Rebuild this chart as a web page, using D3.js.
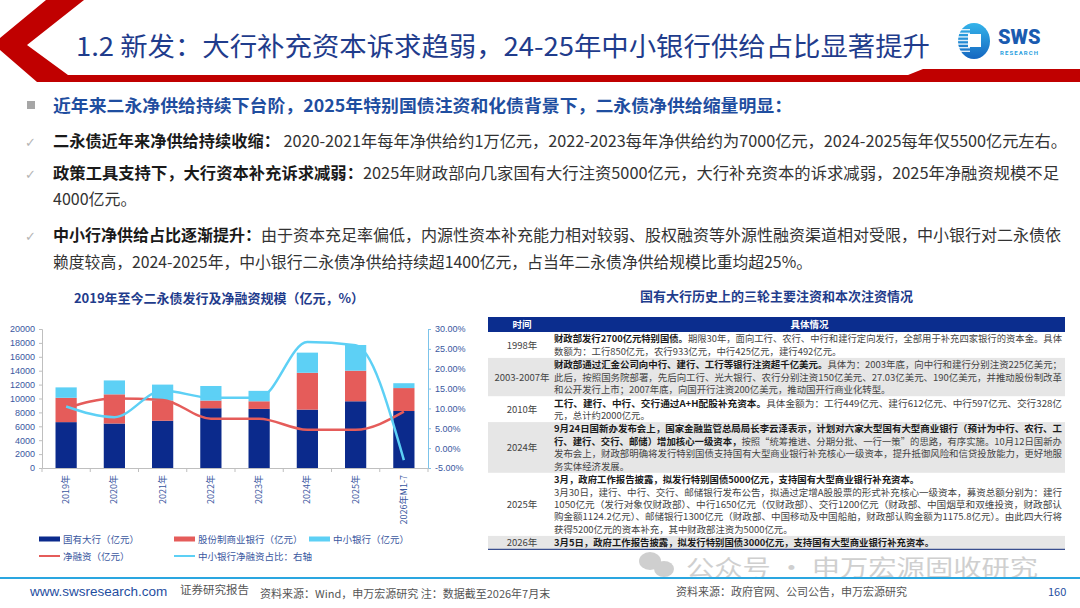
<!DOCTYPE html>
<html><head><meta charset="utf-8">
<script src="https://cdn.jsdelivr.net/npm/d3@7"></script>
<style>
body{margin:0;background:#fff;}
svg{display:block;font-family:"Noto Sans CJK SC","Noto Sans",sans-serif;}
</style>
</head><body>
<svg id="c" width="1080" height="608"></svg>
<script>
// ---------------- DATA ----------------
const pageTitle = "1.2 新发：大行补充资本诉求趋弱，24-25年中小银行供给占比显著提升";
const headline = "近年来二永净供给持续下台阶，2025年特别国债注资和化债背景下，二永债净供给缩量明显：";
const bodyLines = [
  [["b","二永债近年来净供给持续收缩："],["r","  2020-2021年每年净供给约1万亿元，2022-2023每年净供给约为7000亿元，2024-2025每年仅5500亿元左右。"]],
  [["b","政策工具支持下，大行资本补充诉求减弱："],["r","2025年财政部向几家国有大行注资5000亿元，大行补充资本的诉求减弱，2025年净融资规模不足"]],
  [["r","4000亿元。"]],
  [["b","中小行净供给占比逐渐提升："],["r","由于资本充足率偏低，内源性资本补充能力相对较弱、股权融资等外源性融资渠道相对受限，中小银行对二永债依"]],
  [["r","赖度较高，2024-2025年，中小银行二永债净供给持续超1400亿元，占当年二永债净供给规模比重均超25%。"]]
];
const bodyChecks = [true, true, false, true, false];

const chartTitle = "2019年至今二永债发行及净融资规模（亿元，%）";
const categories = ["2019年","2020年","2021年","2022年","2023年","2024年","2025年","2026年M1-7"];
const bigBanks   = [6600, 6400, 6800, 8600, 8500, 8400, 9600, 8200];
const jointStock = [3500, 4200, 2900, 1100, 1100, 5300, 4400, 3300];
const smallBanks = [1500, 2000, 2300, 2100, 1500, 2900, 3700,  700];
const netFinancing = [8600, 10000, 9800, 7100, 7100, 5500, 5500, 8100];
const smallShare = [10.5, 7.8, 14.5, 12.7, 12.7, 26.7, 25.9, -3.0];
const leftTicks = [0,2000,4000,6000,8000,10000,12000,14000,16000,18000,20000];
const rightTicks = [-5,0,5,10,15,20,25,30];
const seriesNames = ["国有大行（亿元）","股份制商业银行（亿元）","中小银行（亿元）","净融资（亿元）","中小银行净融资占比：右轴"];

const tableTitle = "国有大行历史上的三轮主要注资和本次注资情况";
const tableHeaders = ["时间","具体情况"];
const tableYears = ["1998年","2003-2007年","2010年","2024年","2025年","2026年"];
const tableLines = [
  [
    [["b","财政部发行2700亿元特别国债。"],["r","期限30年，面向工行、农行、中行和建行定向发行，全部用于补充四家银行的资本金。具体"]],
    [["r","数额为：工行850亿元，农行933亿元，中行425亿元，建行492亿元。"]]
  ],
  [
    [["b","财政部通过汇金公司向中行、建行、工行等银行注资超千亿美元。"],["r","具体为：2003年底，向中行和建行分别注资225亿美元；"]],
    [["r","此后，按照国务院部署，先后向工行、光大银行、农行分别注资150亿美元、27.03亿美元、190亿美元，并推动股份制改革"]],
    [["r","和公开发行上市；2007年底，向国开行注资200亿美元，推动国开行商业化转型。"]]
  ],
  [
    [["b","工行、建行、中行、交行通过A+H配股补充资本。"],["r","具体金额为：工行449亿元、建行612亿元、中行597亿元、交行328亿"]],
    [["r","元，总计约2000亿元。"]]
  ],
  [
    [["b","9月24日国新办发布会上，国家金融监管总局局长李云泽表示，计划对六家大型国有大型商业银行（预计为中行、农行、工"]],
    [["b","行、建行、交行、邮储）增加核心一级资本，"],["r","按照“统筹推进、分期分批、一行一策”的思路，有序实施。10月12日国新办"]],
    [["r","发布会上，财政部明确将发行特别国债支持国有大型商业银行补充核心一级资本，提升抵御风险和信贷投放能力，更好地服"]],
    [["r","务实体经济发展。"]]
  ],
  [
    [["b","3月，政府工作报告披露，拟发行特别国债5000亿元，支持国有大型商业银行补充资本。"]],
    [["r","3月30日，建行、中行、交行、邮储银行发布公告，拟通过定增A股股票的形式补充核心一级资本，募资总额分别为：建行"]],
    [["r","1050亿元（发行对象仅财政部）、中行1650亿元（仅财政部）、交行1200亿元（财政部、中国烟草和双维投资，财政部认"]],
    [["r","购金额1124.2亿元）、邮储银行1300亿元（财政部、中国移动及中国船舶，财政部认购金额为1175.8亿元）。由此四大行将"]],
    [["r","获得5200亿元的资本补充，其中财政部注资为5000亿元。"]]
  ],
  [
    [["b","3月5日，政府工作报告披露，拟发行特别国债3000亿元，支持国有大型商业银行补充资本。"]]
  ]
];
const footerSite = "www.swsresearch.com";
const footerTag = "证券研究报告";
const footerSourceLeft = "资料来源：Wind，申万宏源研究 注：数据截至2026年7月末";
const footerSourceRight = "资料来源：政府官网、公司公告，申万宏源研究";
const pageNo = "160";
const watermark = "公众号 · 申万宏源固收研究";

// ---------------- DRAW ----------------
const svg = d3.select("#c");
const NAVY = "#0b2a8c", RED = "#e55c5a", LIGHT = "#5dd0f5", AXIS = "#3a57a0";

// header band
svg.append("polygon")
  .attr("points","46,0 84,0 27,45 68,75 908,75 923,69 1080,69 1080,82 37,82 0,50 0,38")
  .attr("fill","#c00000");
svg.append("text").attr("x",76).attr("y",56).attr("font-size",26)
  .attr("fill","#1f3c8c").attr("textLength",854).attr("lengthAdjust","spacingAndGlyphs")
  .text(pageTitle);

// logo
const logo = svg.append("g");
const lg = svg.append("defs").append("linearGradient").attr("id","lgb").attr("x1","0").attr("y1","0").attr("x2","0").attr("y2","1");
lg.append("stop").attr("offset","0").attr("stop-color","#35b4ea");
lg.append("stop").attr("offset","1").attr("stop-color","#1466c0");
logo.append("ellipse").attr("cx",974).attr("cy",41).attr("rx",16).attr("ry",18).attr("fill","url(#lgb)");
d3.range(7).forEach(i=>{
  logo.append("rect").attr("x",958).attr("y",29+i*3.6).attr("width",12).attr("height",1.4).attr("fill","#fff").attr("opacity",0.85);
});
logo.append("rect").attr("x",968).attr("y",34).attr("width",13).attr("height",13).attr("fill","#fff");
logo.append("text").attr("x",998).attr("y",44).attr("font-size",20).attr("font-weight",900)
  .attr("font-family","Roboto, 'DejaVu Sans', sans-serif").attr("fill","#1a5bb0").text("SWS");
logo.append("text").attr("x",1000).attr("y",55).attr("font-size",6).attr("font-weight",700)
  .attr("font-family","Roboto, sans-serif").attr("fill","#2aa0e0").attr("textLength",38).text("RESEARCH");

// body text
svg.append("rect").attr("x",27).attr("y",101).attr("width",8).attr("height",8).attr("fill","#a6a6a6");
svg.append("text").attr("x",53).attr("y",112).attr("font-size",17).attr("font-weight",700)
  .attr("fill","#1f4ea0").attr("textLength",739).attr("lengthAdjust","spacingAndGlyphs").text(headline);

const bodyY = [147, 179, 205, 241, 268];
const bodyW = [1014, 1006, null, 1008, 759];
bodyLines.forEach((segs,i)=>{
  if (bodyChecks[i]) svg.append("text").attr("x",25).attr("y",bodyY[i]).attr("font-size",13)
      .attr("fill","#b5b5b5").attr("font-family","'DejaVu Sans',sans-serif").text("✓");
  const t = svg.append("text").attr("x",53).attr("y",bodyY[i]).attr("font-size",16);
  segs.forEach(s=>{
    t.append("tspan").attr("font-weight", s[0]==="b"?700:400)
     .attr("fill", s[0]==="b"?"#1a1a1a":"#333").text(s[1]);
  });
  if (bodyW[i]) t.attr("textLength",bodyW[i]).attr("lengthAdjust","spacingAndGlyphs");
});

// ---------------- CHART ----------------
svg.append("text").attr("x",219).attr("y",303).attr("text-anchor","middle").attr("font-size",13)
  .attr("font-weight",700).attr("fill","#1f3c8c").text(chartTitle);

const plotL = 42, plotR = 428, plotT = 329, plotB = 468;
const x = d3.scaleBand().domain(categories).range([plotL, plotR]).paddingInner(0.56).paddingOuter(0.28);
const yL = d3.scaleLinear().domain([0,20000]).range([plotB, plotT]);
const yR = d3.scaleLinear().domain([-5,30]).range([plotB, plotT]);

const stackData = categories.map((c,i)=>({cat:c, big:bigBanks[i], joint:jointStock[i], small:smallBanks[i]}));
const stack = d3.stack().keys(["big","joint","small"])(stackData);
const colors = {big:NAVY, joint:RED, small:LIGHT};
const bars = svg.append("g");
stack.forEach(layer=>{
  bars.selectAll(null).data(layer).join("rect")
    .attr("x",d=>x(d.data.cat)).attr("width",x.bandwidth())
    .attr("y",d=>yL(d[1])).attr("height",d=>yL(d[0])-yL(d[1]))
    .attr("fill",colors[layer.key]);
});

// axes
const axL = svg.append("g").attr("transform",`translate(${plotL},0)`)
  .call(d3.axisLeft(yL).tickValues(leftTicks).tickSize(3).tickPadding(4).tickFormat(d3.format("d")));
axL.select(".domain").attr("stroke","#bfbfbf");
axL.selectAll(".tick line").attr("stroke","#bfbfbf");
axL.selectAll("text").attr("font-size",9).attr("fill",AXIS).attr("font-family","'Liberation Sans',Arial,sans-serif");

const axR = svg.append("g").attr("transform",`translate(${plotR},0)`)
  .call(d3.axisRight(yR).tickValues(rightTicks).tickSize(3).tickPadding(4).tickFormat(d=>d.toFixed(2)+"%"));
axR.select(".domain").attr("stroke","#7cc3ea");
axR.selectAll(".tick line").attr("stroke","#7cc3ea");
axR.selectAll("text").attr("font-size",9).attr("fill",AXIS).attr("font-family","'Liberation Sans',Arial,sans-serif");

const axB = svg.append("g").attr("transform",`translate(0,${plotB})`)
  .call(d3.axisBottom(x).tickSize(0).tickFormat(""));
axB.select(".domain").attr("stroke","#bfbfbf");
const step = x.step();
categories.forEach((c,i)=>{
  const xb = x(c) - step*x.paddingInner()/2;
  svg.append("line").attr("x1",xb).attr("x2",xb).attr("y1",plotB).attr("y2",plotB+4).attr("stroke","#bfbfbf");
});
svg.append("line").attr("x1",plotR).attr("x2",plotR).attr("y1",plotB).attr("y2",plotB+4).attr("stroke","#bfbfbf");
svg.append("g").selectAll("text").data(categories).join("text")
  .attr("transform",d=>`translate(${x(d)+x.bandwidth()/2+3},475) rotate(-90)`)
  .attr("text-anchor","end").attr("font-size",9).attr("fill",AXIS).text(d=>d);

// lines
const cx = d=>x(d)+x.bandwidth()/2;
svg.append("path").datum(netFinancing)
  .attr("d",d3.line().x((d,i)=>cx(categories[i])).y(d=>yL(d)).curve(d3.curveMonotoneX))
  .attr("fill","none").attr("stroke",RED).attr("stroke-width",2.5);
svg.append("path").datum(smallShare)
  .attr("d",d3.line().x((d,i)=>cx(categories[i])).y(d=>yR(d)).curve(d3.curveMonotoneX))
  .attr("fill","none").attr("stroke",LIGHT).attr("stroke-width",2.5);

// legend
const leg = [
  {x:39,y:539,type:"rect",c:NAVY,t:seriesNames[0]},
  {x:174,y:539,type:"rect",c:RED,t:seriesNames[1]},
  {x:309,y:539,type:"rect",c:LIGHT,t:seriesNames[2]},
  {x:39,y:556,type:"line",c:RED,t:seriesNames[3]},
  {x:174,y:556,type:"line",c:LIGHT,t:seriesNames[4]}
];
leg.forEach(l=>{
  if (l.type==="rect") svg.append("rect").attr("x",l.x).attr("y",l.y-2.5).attr("width",21).attr("height",5).attr("fill",l.c);
  else svg.append("line").attr("x1",l.x).attr("x2",l.x+21).attr("y1",l.y).attr("y2",l.y).attr("stroke",l.c).attr("stroke-width",2);
  svg.append("text").attr("x",l.x+24).attr("y",l.y+3.5).attr("font-size",9.5).attr("fill",AXIS).text(l.t);
});

// ---------------- TABLE ----------------
const tL = 488, tR = 1065, colX = 522, txtX = 554, txtW = 508;
svg.append("text").attr("x",(tL+tR)/2).attr("y",301).attr("text-anchor","middle").attr("font-size",13)
  .attr("font-weight",700).attr("fill","#1f3c8c").text(tableTitle);
svg.append("rect").attr("x",tL).attr("y",317).attr("width",tR-tL).attr("height",15).attr("fill","#0b2d8e");
svg.append("text").attr("x",colX).attr("y",328).attr("text-anchor","middle").attr("font-size",9.5).attr("font-weight",700).attr("fill","#fff").text(tableHeaders[0]);
svg.append("text").attr("x",(txtX+tR)/2).attr("y",328).attr("text-anchor","middle").attr("font-size",9.5).attr("font-weight",700).attr("fill","#fff").text(tableHeaders[1]);

const LH = 12.4;
let ry = 332;
tableLines.forEach((lines,ri)=>{
  const n = lines.length;
  const h = n*LH + 1.1;
  if (ri%2===1) svg.append("rect").attr("x",tL).attr("y",ry).attr("width",tR-tL).attr("height",h).attr("fill","#e6e6e6");
  const mid = ry + h/2 + 0.3;
  svg.append("text").attr("x",colX).attr("y",mid+3.3).attr("text-anchor","middle").attr("font-size",9.5)
    .attr("fill","#444").text(tableYears[ri]);
  lines.forEach((segs,li)=>{
    const cy = mid + (li-(n-1)/2)*LH;
    const t = svg.append("text").attr("x",txtX).attr("y",cy+3.3).attr("font-size",9.4);
    segs.forEach(s=>{
      t.append("tspan").attr("font-weight",s[0]==="b"?700:400).attr("fill",s[0]==="b"?"#1a1a1a":"#444").text(s[1]);
    });
    const full = segs.map(s=>s[1]).join("");
    const natural = t.node().getComputedTextLength();
    if (!full.endsWith("。") || natural > txtW) t.attr("textLength",txtW).attr("lengthAdjust","spacingAndGlyphs");
  });
  ry += h;
});
svg.append("line").attr("x1",tL).attr("x2",tR).attr("y1",ry).attr("y2",ry).attr("stroke","#3a4f8f").attr("stroke-width",1.2);

// watermark
const wm = svg.append("g").attr("opacity",0.7);
wm.append("ellipse").attr("cx",650).attr("cy",561).attr("rx",11).attr("ry",9).attr("fill","#bcbcbc");
wm.append("ellipse").attr("cx",664).attr("cy",569).attr("rx",10).attr("ry",8).attr("fill","#bcbcbc");
wm.append("text").attr("x",686).attr("y",575.5).attr("font-size",22.5).attr("fill","#bcbcbc")
  .attr("textLength",352).attr("lengthAdjust","spacingAndGlyphs").text(watermark);

// footer
svg.append("line").attr("x1",0).attr("x2",1080).attr("y1",578).attr("y2",578).attr("stroke","#2aa6e0").attr("stroke-width",2);
svg.append("text").attr("x",30).attr("y",596).attr("font-size",13.5).attr("fill","#1f4ea0")
  .attr("font-family","'Liberation Sans',Arial,sans-serif").text(footerSite);
svg.append("text").attr("x",180).attr("y",594).attr("font-size",11.5).attr("fill","#555").text(footerTag);
svg.append("text").attr("x",260).attr("y",598).attr("font-size",11).attr("fill","#555").text(footerSourceLeft);
svg.append("text").attr("x",676).attr("y",596).attr("font-size",11).attr("fill","#555").text(footerSourceRight);
svg.append("text").attr("x",1048).attr("y",596).attr("font-size",11).attr("fill","#1f4ea0").text(pageNo);
</script>
</body></html>
